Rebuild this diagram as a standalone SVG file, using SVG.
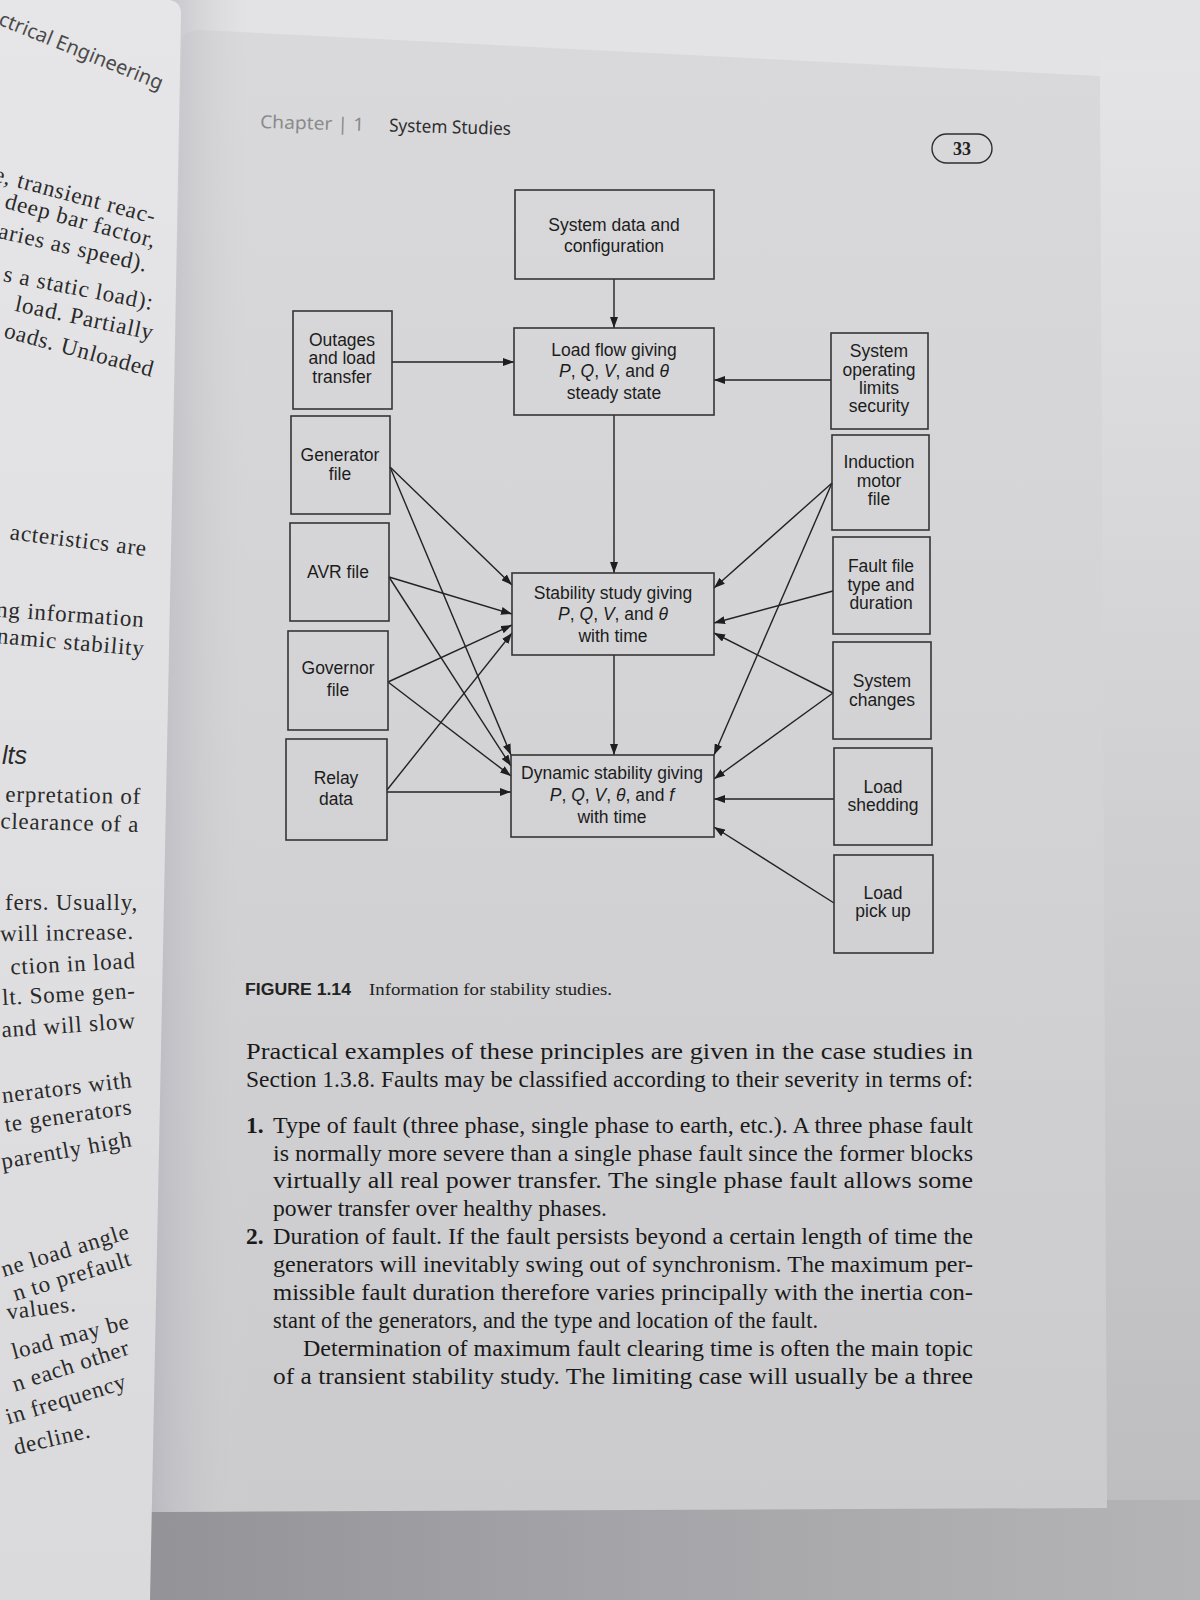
<svg xmlns="http://www.w3.org/2000/svg" width="1200" height="1600" viewBox="0 0 1200 1600">
<defs>
  <linearGradient id="pageG" x1="0" y1="0" x2="0" y2="1">
    <stop offset="0" stop-color="#d9d9db"/>
    <stop offset="0.5" stop-color="#d3d3d5"/>
    <stop offset="1" stop-color="#cbcbcd"/>
  </linearGradient>
  <linearGradient id="gutterG" x1="0" y1="0" x2="1" y2="0">
    <stop offset="0" stop-color="#b4b4bc" stop-opacity="1"/>
    <stop offset="1" stop-color="#d4d4d6" stop-opacity="0"/>
  </linearGradient>
  <linearGradient id="leftG" x1="0" y1="0" x2="0" y2="1">
    <stop offset="0" stop-color="#e6e6e8"/>
    <stop offset="1" stop-color="#dadadc"/>
  </linearGradient>
  <linearGradient id="bottomG" x1="0" y1="0" x2="1" y2="0">
    <stop offset="0" stop-color="#8e8e92"/>
    <stop offset="0.5" stop-color="#a4a4a8"/>
    <stop offset="1" stop-color="#b4b4b6"/>
  </linearGradient>
  <linearGradient id="rightG" x1="0" y1="0" x2="0" y2="1">
    <stop offset="0" stop-color="#e4e4e6"/>
    <stop offset="1" stop-color="#bdbdbf"/>
  </linearGradient>
  <marker id="ah" viewBox="0 0 11 8" refX="11" refY="4" markerWidth="11" markerHeight="8" markerUnits="userSpaceOnUse" orient="auto">
    <path d="M0,0 L11,4 L0,8 z" fill="#1e1e1e"/>
  </marker>
  <style>
    .box{fill:none;stroke:#353535;stroke-width:1.6}
    .bt{font-family:"Liberation Sans",Arial,sans-serif;font-size:17.5px;fill:#1c1c1c;text-anchor:middle}
    .it{font-style:italic}
    .cn{stroke:#222;stroke-width:1.4;fill:none;marker-end:url(#ah)}
    .body{font-family:"Liberation Serif","Times New Roman",serif;font-size:23.5px;fill:#1a1a1a}
    .lp{font-family:"Liberation Serif","Times New Roman",serif;font-size:23px;fill:#2a2a2a;text-anchor:end;letter-spacing:0.8px}
  </style>
</defs>

<!-- photo background -->
<rect x="0" y="0" width="1200" height="1600" fill="#e3e3e5"/>
<rect x="1100" y="60" width="100" height="1460" fill="url(#rightG)"/>
<rect x="0" y="1500" width="1200" height="100" fill="url(#bottomG)"/>

<!-- right page -->
<path d="M182,40 Q184,30 200,30 L1100,76 L1107,1508 L150,1512 Z" fill="url(#pageG)"/>
<!-- gutter shadow -->
<path d="M150,0 L250,0 L250,1512 L140,1512 Z" fill="url(#gutterG)"/>
<!-- left page -->
<path d="M0,0 L170,0 Q181,2 181,14 L172,500 L160,1100 L150,1600 L0,1600 Z" fill="url(#leftG)"/>

<!-- left page fragments -->
<g id="left-page-text">
  <text x="160" y="90" transform="rotate(22 160 90)" style="font-family:'Noto Sans','Liberation Sans',sans-serif;font-size:20px;fill:#4a4a4a;text-anchor:end">ctrical Engineering</text>
  <text class="lp" x="154" y="224" transform="rotate(15 154 224)">e, transient reac-</text>
  <text class="lp" x="154" y="248" transform="rotate(15 154 248)">deep bar factor,</text>
  <text class="lp" x="146" y="272" transform="rotate(13 146 272)">aries as speed).</text>
  <text class="lp" x="152" y="310" transform="rotate(11 152 310)">s a static load):</text>
  <text class="lp" x="152" y="340" transform="rotate(12 152 340)">load. Partially</text>
  <text class="lp" x="152" y="377" transform="rotate(15 152 377)">oads. Unloaded</text>
  <text class="lp" x="146" y="556" transform="rotate(7 146 556)">acteristics are</text>
  <text class="lp" x="144" y="627" transform="rotate(4 144 627)">ng information</text>
  <text class="lp" x="144" y="656" transform="rotate(5 144 656)">namic stability</text>
  <text x="2" y="764" style="font-family:'Liberation Sans',Arial,sans-serif;font-size:25px;font-style:italic;fill:#2a2a2a">lts</text>
  <text class="lp" x="141" y="804" transform="rotate(1 141 804)">erpretation of</text>
  <text class="lp" x="139" y="832" transform="rotate(1.5 139 832)">clearance of a</text>
  <text class="lp" x="138" y="910">fers. Usually,</text>
  <text class="lp" x="134" y="939" transform="rotate(-1 134 939)">will increase.</text>
  <text class="lp" x="136" y="968" transform="rotate(-3 136 968)">ction in load</text>
  <text class="lp" x="136" y="998" transform="rotate(-3 136 998)">lt. Some gen-</text>
  <text class="lp" x="136" y="1028" transform="rotate(-4 136 1028)">and will slow</text>
  <text class="lp" x="133" y="1087" transform="rotate(-7 133 1087)">nerators with</text>
  <text class="lp" x="133" y="1114" transform="rotate(-8 133 1114)">te generators</text>
  <text class="lp" x="133" y="1146" transform="rotate(-10 133 1146)">parently high</text>
  <text class="lp" x="131" y="1238" transform="rotate(-17 131 1238)">ne load angle</text>
  <text class="lp" x="133" y="1265" transform="rotate(-17 133 1265)">n to prefault</text>
  <text class="lp" x="77" y="1311" transform="rotate(-7 77 1311)">values.</text>
  <text class="lp" x="131" y="1328" transform="rotate(-15 131 1328)">load may be</text>
  <text class="lp" x="131" y="1354" transform="rotate(-18 131 1354)">n each other</text>
  <text class="lp" x="128" y="1388" transform="rotate(-17 128 1388)">in frequency</text>
  <text class="lp" x="92" y="1437" transform="rotate(-13 92 1437)">decline.</text>
</g>

<!-- running header -->
<g id="header" transform="rotate(1.6 260 126)">
  <text x="260" y="128" textLength="104" lengthAdjust="spacingAndGlyphs" style="font-family:'Noto Sans','Liberation Sans',sans-serif;font-size:18px;fill:#8a8a8c">Chapter | 1</text>
  <text x="389" y="128" textLength="122" lengthAdjust="spacingAndGlyphs" style="font-family:'Noto Sans','Liberation Sans',sans-serif;font-size:18px;fill:#2e2e2e">System Studies</text>
</g>
<g id="page-number">
  <rect x="932" y="134" width="60" height="29" rx="14.5" fill="none" stroke="#2e2e2e" stroke-width="1.4"/>
  <text x="962" y="155" style="font-family:'Liberation Serif',serif;font-size:18px;font-weight:bold;fill:#222;text-anchor:middle">33</text>
</g>

<!-- connectors -->
<g id="connectors">
  <line class="cn" x1="614" y1="279" x2="614" y2="328"/>
  <line class="cn" x1="392" y1="362" x2="514" y2="362"/>
  <line class="cn" x1="831" y1="380" x2="714" y2="380"/>
  <line class="cn" x1="614" y1="415" x2="614" y2="573"/>
  <line class="cn" x1="614" y1="655" x2="614" y2="755"/>
  <line class="cn" x1="390" y1="467" x2="512" y2="585"/>
  <line class="cn" x1="390" y1="467" x2="511" y2="755"/>
  <line class="cn" x1="389" y1="577" x2="512" y2="614"/>
  <line class="cn" x1="389" y1="577" x2="511" y2="766"/>
  <line class="cn" x1="388" y1="682" x2="512" y2="625"/>
  <line class="cn" x1="388" y1="682" x2="511" y2="776"/>
  <line class="cn" x1="387" y1="790" x2="512" y2="633"/>
  <line class="cn" x1="387" y1="792" x2="511" y2="792"/>
  <line class="cn" x1="832" y1="483" x2="714" y2="588"/>
  <line class="cn" x1="832" y1="483" x2="714" y2="755"/>
  <line class="cn" x1="833" y1="591" x2="714" y2="623"/>
  <line class="cn" x1="833" y1="693" x2="714" y2="633"/>
  <line class="cn" x1="833" y1="693" x2="714" y2="779"/>
  <line class="cn" x1="834" y1="799" x2="714" y2="799"/>
  <line class="cn" x1="834" y1="903" x2="714" y2="827"/>
</g>

<!-- nodes -->
<g id="system-data">
  <rect class="box" x="515" y="190" width="199" height="89"/>
  <text class="bt" x="614" y="231">System data and</text>
  <text class="bt" x="614" y="252">configuration</text>
</g>
<g id="load-flow">
  <rect class="box" x="514" y="328" width="200" height="87"/>
  <text class="bt" x="614" y="356">Load flow giving</text>
  <text class="bt" x="614" y="377"><tspan class="it">P</tspan>, <tspan class="it">Q</tspan>, <tspan class="it">V</tspan>, and <tspan class="it">θ</tspan></text>
  <text class="bt" x="614" y="399">steady state</text>
</g>
<g id="outages">
  <rect class="box" x="293" y="311" width="99" height="98"/>
  <text class="bt" x="342" y="346">Outages</text>
  <text class="bt" x="342" y="364">and load</text>
  <text class="bt" x="342" y="383">transfer</text>
</g>
<g id="system-operating-limits">
  <rect class="box" x="831" y="333" width="97" height="96"/>
  <text class="bt" x="879" y="357">System</text>
  <text class="bt" x="879" y="376">operating</text>
  <text class="bt" x="879" y="394">limits</text>
  <text class="bt" x="879" y="412">security</text>
</g>
<g id="generator-file">
  <rect class="box" x="291" y="416" width="99" height="98"/>
  <text class="bt" x="340" y="461">Generator</text>
  <text class="bt" x="340" y="480">file</text>
</g>
<g id="induction-motor-file">
  <rect class="box" x="832" y="435" width="97" height="95"/>
  <text class="bt" x="879" y="468">Induction</text>
  <text class="bt" x="879" y="487">motor</text>
  <text class="bt" x="879" y="505">file</text>
</g>
<g id="avr-file">
  <rect class="box" x="290" y="523" width="99" height="98"/>
  <text class="bt" x="338" y="578">AVR file</text>
</g>
<g id="fault-file">
  <rect class="box" x="833" y="537" width="97" height="97"/>
  <text class="bt" x="881" y="572">Fault file</text>
  <text class="bt" x="881" y="591">type and</text>
  <text class="bt" x="881" y="609">duration</text>
</g>
<g id="stability-study">
  <rect class="box" x="512" y="573" width="202" height="82"/>
  <text class="bt" x="613" y="599">Stability study giving</text>
  <text class="bt" x="613" y="620"><tspan class="it">P</tspan>, <tspan class="it">Q</tspan>, <tspan class="it">V</tspan>, and <tspan class="it">θ</tspan></text>
  <text class="bt" x="613" y="642">with time</text>
</g>
<g id="governor-file">
  <rect class="box" x="288" y="631" width="100" height="99"/>
  <text class="bt" x="338" y="674">Governor</text>
  <text class="bt" x="338" y="696">file</text>
</g>
<g id="system-changes">
  <rect class="box" x="833" y="642" width="98" height="97"/>
  <text class="bt" x="882" y="687">System</text>
  <text class="bt" x="882" y="706">changes</text>
</g>
<g id="relay-data">
  <rect class="box" x="286" y="739" width="101" height="101"/>
  <text class="bt" x="336" y="784">Relay</text>
  <text class="bt" x="336" y="805">data</text>
</g>
<g id="dynamic-stability">
  <rect class="box" x="511" y="755" width="203" height="82"/>
  <text class="bt" x="612" y="779">Dynamic stability giving</text>
  <text class="bt" x="612" y="801"><tspan class="it">P</tspan>, <tspan class="it">Q</tspan>, <tspan class="it">V</tspan>, <tspan class="it">θ</tspan>, and <tspan class="it">f</tspan></text>
  <text class="bt" x="612" y="823">with time</text>
</g>
<g id="load-shedding">
  <rect class="box" x="834" y="748" width="98" height="97"/>
  <text class="bt" x="883" y="793">Load</text>
  <text class="bt" x="883" y="811">shedding</text>
</g>
<g id="load-pick-up">
  <rect class="box" x="834" y="855" width="99" height="98"/>
  <text class="bt" x="883" y="899">Load</text>
  <text class="bt" x="883" y="917">pick up</text>
</g>

<!-- caption -->
<g id="caption">
  <text x="245" y="995" textLength="106" lengthAdjust="spacingAndGlyphs" style="font-family:'Liberation Sans',Arial,sans-serif;font-size:16px;font-weight:bold;fill:#222">FIGURE 1.14</text>
  <text x="369" y="995" textLength="243" lengthAdjust="spacingAndGlyphs" style="font-family:'Liberation Serif',serif;font-size:17px;fill:#222">Information for stability studies.</text>
</g>

<!-- body text -->
<g id="body-text">
  <text class="body" x="246" y="1059" textLength="727" lengthAdjust="spacingAndGlyphs">Practical examples of these principles are given in the case studies in</text>
  <text class="body" x="246" y="1087" textLength="727" lengthAdjust="spacingAndGlyphs">Section 1.3.8. Faults may be classified according to their severity in terms of:</text>
  <text class="body" x="246" y="1133" style="font-weight:bold">1.</text>
  <text class="body" x="273" y="1133" textLength="700" lengthAdjust="spacingAndGlyphs">Type of fault (three phase, single phase to earth, etc.). A three phase fault</text>
  <text class="body" x="273" y="1161" textLength="700" lengthAdjust="spacingAndGlyphs">is normally more severe than a single phase fault since the former blocks</text>
  <text class="body" x="273" y="1188" textLength="700" lengthAdjust="spacingAndGlyphs">virtually all real power transfer. The single phase fault allows some</text>
  <text class="body" x="273" y="1216" textLength="334" lengthAdjust="spacingAndGlyphs">power transfer over healthy phases.</text>
  <text class="body" x="246" y="1244" style="font-weight:bold">2.</text>
  <text class="body" x="273" y="1244" textLength="700" lengthAdjust="spacingAndGlyphs">Duration of fault. If the fault persists beyond a certain length of time the</text>
  <text class="body" x="273" y="1272" textLength="700" lengthAdjust="spacingAndGlyphs">generators will inevitably swing out of synchronism. The maximum per-</text>
  <text class="body" x="273" y="1300" textLength="700" lengthAdjust="spacingAndGlyphs">missible fault duration therefore varies principally with the inertia con-</text>
  <text class="body" x="273" y="1328" textLength="545" lengthAdjust="spacingAndGlyphs">stant of the generators, and the type and location of the fault.</text>
  <text class="body" x="303" y="1356" textLength="670" lengthAdjust="spacingAndGlyphs">Determination of maximum fault clearing time is often the main topic</text>
  <text class="body" x="273" y="1384" textLength="700" lengthAdjust="spacingAndGlyphs">of a transient stability study. The limiting case will usually be a three</text>
</g>
</svg>
